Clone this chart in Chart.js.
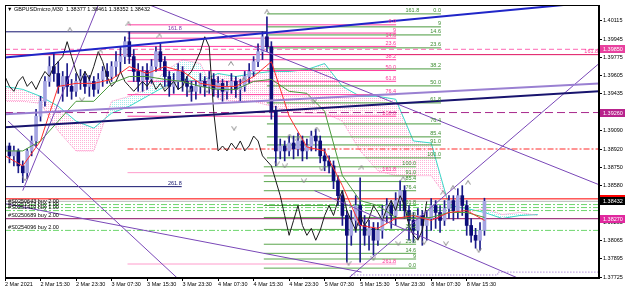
<!DOCTYPE html>
<html>
<head>
<meta charset="utf-8">
<script src="https://cdn.jsdelivr.net/npm/chart.js@4.4.1/dist/chart.umd.min.js"></script>
<style>
  html, body { margin: 0; padding: 0; background: #fff; }
</style>
</head>
<body>
<canvas id="c" width="625" height="290"></canvas>
<script>
// ── GBPUSDmicro M30 – candles, ichimoku, fibo levels, orders ──

const title = '\u25BC GBPUSDmicro,M30  1.38377 1.38461 1.38352 1.38432';

// time axis: hours of trading since 2 Mar 07:30 (weekend skipped)
const xTicks = [0, 8, 16, 24, 32, 40, 48, 56, 64, 72, 80, 88, 96, 104];
const xTickLabels = ['2 Mar 2021', '2 Mar 15:30', '2 Mar 23:30', '3 Mar 07:30', '3 Mar 15:30', '3 Mar 23:30',
    '4 Mar 07:30', '4 Mar 15:30', '4 Mar 23:30', '5 Mar 07:30', '5 Mar 15:30', '5 Mar 23:30', '8 Mar 07:30', '8 Mar 15:30'];
const yTicks = [1.40115, 1.39945, 1.39775, 1.39605, 1.39435, 1.39090, 1.38920, 1.38750, 1.38580,
    1.38235, 1.38065, 1.37895, 1.37725];

// candles (one per hour)
const firstOpen = 1.38902;
const closes = [
    1.38948, 1.38856, 1.38902, 1.38763, 1.38698, 1.38902, 1.38995, 1.39226, 1.39365, 1.39550,
    1.39689, 1.39624, 1.39504, 1.39596, 1.39504, 1.39458, 1.39550, 1.39596, 1.39504, 1.39550,
    1.39476, 1.39569, 1.39643, 1.39596, 1.39689, 1.39735, 1.39782, 1.39921, 1.39782, 1.39643,
    1.39550, 1.39643, 1.39569, 1.39689, 1.39828, 1.39735, 1.39596, 1.39504, 1.39550, 1.39643,
    1.39550, 1.39504, 1.39458, 1.39504, 1.39550, 1.39504, 1.39569, 1.39476, 1.39532, 1.39458,
    1.39504, 1.39550, 1.39476, 1.39504, 1.39596, 1.39643, 1.39735, 1.39828, 1.39967, 1.39874,
    1.39272, 1.38902, 1.38948, 1.38902, 1.38976, 1.38921, 1.38995, 1.38902, 1.38948, 1.39041,
    1.38995, 1.38856, 1.38809, 1.38763, 1.38624, 1.38485, 1.38300, 1.38115, 1.38254, 1.38393,
    1.38207, 1.38115, 1.38180, 1.38069, 1.38161, 1.38300, 1.38393, 1.38300, 1.38439, 1.38532,
    1.38346, 1.38254, 1.38161, 1.38300, 1.38207, 1.38272, 1.38393, 1.38328, 1.38254, 1.38365,
    1.38439, 1.38346, 1.38485, 1.38393, 1.38207, 1.38115, 1.38069, 1.38161, 1.38432];
const highs = [
    1.38995, 1.38976, 1.38948, 1.38921, 1.38809, 1.38921, 1.39041, 1.39291, 1.39411, 1.39596,
    1.39782, 1.39809, 1.39735, 1.39643, 1.39717, 1.39569, 1.39624, 1.39661, 1.39643, 1.39606,
    1.39596, 1.39624, 1.39689, 1.39717, 1.39735, 1.39828, 1.39874, 1.39967, 1.40013, 1.39847,
    1.39717, 1.39689, 1.39717, 1.39754, 1.39874, 1.39902, 1.39782, 1.39643, 1.39624, 1.39717,
    1.39689, 1.39596, 1.39550, 1.39550, 1.39624, 1.39596, 1.39643, 1.39624, 1.39596, 1.39569,
    1.39550, 1.39624, 1.39596, 1.39569, 1.39643, 1.39717, 1.39782, 1.39902, 1.40013, 1.40152,
    1.39921, 1.39319, 1.39013, 1.38995, 1.39041, 1.39041, 1.39069, 1.39041, 1.39013, 1.39087,
    1.39106, 1.39041, 1.38921, 1.38856, 1.38809, 1.38671, 1.38532, 1.38346, 1.38346, 1.38485,
    1.38652, 1.38300, 1.38254, 1.38235, 1.38235, 1.38393, 1.38458, 1.38439, 1.38513, 1.38624,
    1.38578, 1.38393, 1.38328, 1.38365, 1.38346, 1.38346, 1.38458, 1.38439, 1.38393, 1.38439,
    1.38485, 1.38485, 1.38550, 1.38578, 1.38439, 1.38272, 1.38180, 1.38235, 1.38461];
const lows = [
    1.38828, 1.38791, 1.38763, 1.38698, 1.38606, 1.38643, 1.38856, 1.38948, 1.39180, 1.39319,
    1.39504, 1.39550, 1.39439, 1.39365, 1.39411, 1.39384, 1.39411, 1.39476, 1.39439, 1.39411,
    1.39411, 1.39439, 1.39504, 1.39532, 1.39550, 1.39596, 1.39643, 1.39717, 1.39717, 1.39550,
    1.39458, 1.39458, 1.39476, 1.39532, 1.39643, 1.39661, 1.39504, 1.39411, 1.39439, 1.39476,
    1.39458, 1.39411, 1.39365, 1.39384, 1.39439, 1.39411, 1.39439, 1.39411, 1.39402, 1.39365,
    1.39384, 1.39439, 1.39402, 1.39365, 1.39458, 1.39532, 1.39596, 1.39689, 1.39754, 1.39828,
    1.39198, 1.38763, 1.38828, 1.38809, 1.38856, 1.38828, 1.38856, 1.38809, 1.38828, 1.38902,
    1.38902, 1.38791, 1.38717, 1.38698, 1.38550, 1.38393, 1.38207, 1.37865, 1.38022, 1.38143,
    1.37865, 1.38022, 1.37976, 1.37930, 1.38022, 1.38087, 1.38235, 1.38180, 1.38207, 1.38346,
    1.38272, 1.38069, 1.38050, 1.38087, 1.38022, 1.38069, 1.38161, 1.38180, 1.38143, 1.38207,
    1.38272, 1.38254, 1.38272, 1.38300, 1.38115, 1.38050, 1.37995, 1.37976, 1.38115];

// ichimoku
const lineHours = [0, 4, 8, 12, 16, 20, 24, 28, 32, 36, 40, 44, 48, 52, 56, 60, 64, 68, 72, 76, 80, 84, 88, 92, 96, 100, 104, 108];
const tenkan = [1.38856, 1.38763, 1.38995, 1.39504, 1.39532, 1.39532, 1.39569, 1.39689, 1.39624, 1.39689,
    1.39643, 1.39532, 1.39504, 1.39504, 1.39596, 1.39735, 1.39226, 1.38939, 1.38902, 1.38578,
    1.38207, 1.38180, 1.38272, 1.38300, 1.38254, 1.38328, 1.38346, 1.38254];
const kijun = [1.38902, 1.38902, 1.38995, 1.39180, 1.39365, 1.39365, 1.39532, 1.39596, 1.39596, 1.39569,
    1.39550, 1.39504, 1.39476, 1.39476, 1.39550, 1.39569, 1.39458, 1.39439, 1.39272, 1.38671,
    1.38439, 1.38393, 1.38282, 1.38272, 1.38282, 1.38328, 1.38328, 1.38282];
const cloudHours = [0, 4, 8, 12, 16, 20, 24, 28, 32, 36, 40, 44, 48, 52, 56, 60, 64, 68, 72, 76,
    80, 84, 88, 92, 96, 100, 104, 108, 112, 116, 120];
const senkouA = [1.39504, 1.39476, 1.39411, 1.39319, 1.39180, 1.39115, 1.39254, 1.39319, 1.39411, 1.39504,
    1.39569, 1.39550, 1.39624, 1.39596, 1.39624, 1.39643, 1.39643, 1.39661, 1.39717, 1.39504,
    1.39411, 1.39411, 1.39384, 1.38995, 1.38976, 1.38393, 1.38365, 1.38328, 1.38272, 1.38300, 1.38309];
const senkouB = [1.39365, 1.39365, 1.39346, 1.39087, 1.38902, 1.38902, 1.39365, 1.39411, 1.39476, 1.39643,
    1.39754, 1.39717, 1.39384, 1.39365, 1.39365, 1.39319, 1.39272, 1.39254, 1.39254, 1.39180,
    1.38902, 1.38717, 1.38671, 1.38671, 1.38671, 1.38439, 1.38328, 1.38365, 1.38309, 1.38328, 1.38300];
const chikouShift = 13;

// fractals
const fracUpT = [27.8, 34.8, 21.5, 14.6, 59.0, 50.9, 53.8, 64.1, 66.1, 70.2, 80.3, 89.7, 98.7, 100.9, 104.3];
const fracUpP = [1.40087, 1.39976, 1.39828, 1.40032, 1.40198, 1.39717, 1.39569, 1.39041, 1.39022, 1.39106,
    1.38745, 1.38643, 1.38513, 1.38559, 1.38606];
const fracDnT = [4.5, 17.3, 35.9, 41.5, 45.5, 51.6, 69.5, 61.2, 63.0, 67.3, 71.3, 77.4, 83.0, 88.6, 94.4, 99.3, 106.7];
const fracDnP = [1.38643, 1.39384, 1.39495, 1.39467, 1.39467, 1.39115, 1.39365, 1.38782, 1.38763, 1.38624,
    1.38735, 1.37856, 1.37902, 1.38041, 1.38050, 1.38041, 1.37976];

// fibo objects
const pinkLevels  = [0, 9, 14.6, 23.6, 38.2, 50, 61.8, 76.4, 100, 161.8, 261.8];
const greenLevels = [0, 9, 14.6, 23.6, 38.2, 50, 61.8, 76.4, 85.4, 91, 100];
const pinkFibRange   = [1.40078, 1.39226];
const pinkFibSpan    = [27.6, 88.1];
const greenFibARange = [1.40180, 1.38837];
const greenFibASpan  = [59, 98.2];
const greenFibBRange = [1.37809, 1.38754];
const greenFibBSpan  = [58.3, 92.6];
const navyPrices = [1.40013, 1.38569];
const navyEnds   = [59, 39.8];
const navyLabels = ['161.8', '261.8'];

// horizontal levels (alerts, orders, bid)
const hLinePrices = [1.39850, 1.39800, 1.39260, 1.38920, 1.38455, 1.38432, 1.38402, 1.38374, 1.38346, 1.38270, 1.38161];
const hLineStarts = [0, 0, 0, 27.6, 0, 0, 0, 0, 0, 0, 0];
const orderTexts  = ['#S0250643 buy 2.00', '#S0251513 buy 1.00', '#S0251419 buy 1.00', '#S0250689 buy 2.00', '#S0254096 buy 2.00'];
const orderPrices = [1.38402, 1.38374, 1.38346, 1.38270, 1.38161];
const badgePrices = [1.39850, 1.39260, 1.38455, 1.38432, 1.38270];

// trend lines: start/end in (hour, price)
const trendFromT = [0, 0, 0, 21.3, 30.9, 0.7, 0, 69.7, 77.4];
const trendFromP = [1.39774, 1.39124, 1.39245, 1.40291, 1.40291, 1.39180, 1.38411, 1.38532, 1.37717];
const trendToT   = [133.8, 133.8, 133.8, 4.0, 133.8, 38.8, 80.3, 115.5, 133.8];
const trendToP   = [1.40294, 1.39458, 1.39532, 1.38532, 1.38587, 1.37717, 1.37772, 1.37717, 1.39717];
const stopT = [78, 111, 111, 133.8];
const stopP = [1.37745, 1.37745, 1.37772, 1.37772];

// ───────────────────────────────────────────────────────────────
const FAMILY = '"Liberation Sans", "DejaVu Sans", sans-serif';
const FONT = '5.5px ' + FAMILY;
const X_MAX = 133.8, Y_MIN = 1.37717, Y_MAX = 1.40263;

const canvas = document.getElementById('c');
const ctx = canvas.getContext('2d');

function dots(color) {
    const c = document.createElement('canvas');
    c.width = 2; c.height = 2;
    const g = c.getContext('2d');
    g.fillStyle = color;
    g.fillRect(0, 0, 1, 1);
    return ctx.createPattern(c, 'repeat');
}

function chevron(up) {
    const c = document.createElement('canvas');
    c.width = 6; c.height = 5;
    const g = c.getContext('2d');
    g.strokeStyle = '#8a8a8a';
    g.lineWidth = 1;
    g.beginPath();
    if (up) { g.moveTo(0.5, 4.5); g.lineTo(3, 0.5); g.lineTo(5.5, 4.5); }
    else    { g.moveTo(0.5, 0.5); g.lineTo(3, 4.5); g.lineTo(5.5, 0.5); }
    g.stroke();
    return c;
}

const seg = (x0, x1, y0, y1, color, width, dash, order) => ({
    type: 'line', data: [{ x: x0, y: y0 }, { x: x1, y: y1 }],
    borderColor: color, borderWidth: width, borderDash: dash, pointRadius: 0, fill: false, order,
});

const fibPrice = (range, l) => range[0] + (range[1] - range[0]) * l / 100;
const fibText  = l => (Number.isInteger(l) && l !== 9 ? l.toFixed(1) : String(l));

const opens = closes.map((c, i) => (i ? closes[i - 1] : firstOpen));
const hours = closes.map((_, i) => i);

const datasets = [];

// cloud (A fills to B)
datasets.push({
    type: 'line', data: cloudHours.map((t, i) => ({ x: t, y: senkouA[i] })),
    borderColor: '#3ad8c8', borderWidth: 1, pointRadius: 0, order: 60,
    fill: { target: '+1', above: dots('#ffb2d8'), below: dots('#a6ecec') },
});
datasets.push({
    type: 'line', data: cloudHours.map((t, i) => ({ x: t, y: senkouB[i] })),
    borderColor: '#ff8cc6', borderWidth: 1, borderDash: [1, 1], pointRadius: 0, fill: false, order: 59,
});

// fibo lines
pinkLevels.forEach(l => {
    const p = fibPrice(pinkFibRange, l);
    datasets.push(seg(pinkFibSpan[0], pinkFibSpan[1], p, p, l > 100 ? '#ff9ccc' : '#ff3d9e', 1, [], 40));
});
greenLevels.forEach(l => {
    const p = fibPrice(greenFibARange, l);
    datasets.push(seg(greenFibASpan[0], greenFibASpan[1], p, p, '#4a9a3e', 1, [], 41));
});
greenLevels.forEach(l => {
    const p = fibPrice(greenFibBRange, l);
    datasets.push(seg(greenFibBSpan[0], greenFibBSpan[1], p, p, '#5aa64c', 1, [], 41));
});
navyPrices.forEach((p, i) => datasets.push(seg(0, navyEnds[i], p, p, '#14146e', 1, [], 39)));

// horizontal levels
const hStyle = [
    ['#ff66b3', 1, [5, 3]], ['#e0115f', 1, []], ['#a8288c', 1, [8, 4]], ['#ff2a2a', 1, [6, 2, 2, 2]],
    ['#ff0000', 1, []], ['#b8b8b8', 1, []], ['#6ed66e', 1, [6, 2, 2, 2]], ['#6ed66e', 1, [6, 2, 2, 2]],
    ['#6ed66e', 1, [6, 2, 2, 2]], ['#8b1060', 1, []], ['#6ed66e', 1, [6, 2, 2, 2]],
];
hLinePrices.forEach((p, i) => datasets.push(seg(hLineStarts[i], X_MAX, p, p, hStyle[i][0], hStyle[i][1], hStyle[i][2], 35)));

// candles
datasets.push({
    type: 'bar', data: hours.map(i => ({ x: i, y: [lows[i], highs[i]] })),
    backgroundColor: '#1c1c8a', barThickness: 1, grouped: false, order: 12,
});
datasets.push({
    type: 'bar', data: hours.map(i => ({ x: i, y: [opens[i], closes[i]] })),
    backgroundColor: hours.map(i => (closes[i] >= opens[i] ? '#a4a4e2' : '#0c0c78')),
    barThickness: 3, minBarLength: 1, grouped: false, order: 11,
});

// ichimoku lines
datasets.push({
    type: 'line', data: closes.map((c, i) => ({ x: i - chikouShift, y: c })),
    borderColor: '#1a1a1a', borderWidth: 1, pointRadius: 0, fill: false, order: 8,
});
datasets.push({
    type: 'line', data: lineHours.map((t, i) => ({ x: t, y: tenkan[i] })),
    borderColor: '#ff2e2e', borderWidth: 1, pointRadius: 0, fill: false, order: 7,
});
datasets.push({
    type: 'line', data: lineHours.map((t, i) => ({ x: t, y: kijun[i] })),
    borderColor: '#4b9a3c', borderWidth: 1, pointRadius: 0, fill: false, order: 7,
});

// trend lines
const trendStyle = [['#2026c8', 2], ['#18146e', 2], ['#9a80d2', 2], ['#7a48b8', 1], ['#7a48b8', 1],
    ['#7a48b8', 1], ['#7a48b8', 1], ['#7a48b8', 1], ['#7a48b8', 1]];
trendFromT.forEach((t, i) => datasets.push(
    seg(t, trendToT[i], trendFromP[i], trendToP[i], trendStyle[i][0], trendStyle[i][1], [], 5)));
datasets.push({
    type: 'line', data: stopT.map((t, i) => ({ x: t, y: stopP[i] })),
    borderColor: '#8a5cc8', borderWidth: 1, borderDash: [1, 2], pointRadius: 0, fill: false, order: 5,
});

// fractal arrows
const upImg = chevron(true), dnImg = chevron(false);
datasets.push({
    type: 'line', showLine: false, data: fracUpT.map((t, i) => ({ x: t, y: fracUpP[i] })),
    pointStyle: upImg, pointRadius: 3, order: 3,
});
datasets.push({
    type: 'line', showLine: false, data: fracDnT.map((t, i) => ({ x: t, y: fracDnP[i] })),
    pointStyle: dnImg, pointRadius: 3, order: 3,
});

// texts, frame, price badges
const overlay = {
    id: 'overlay',
    afterDatasetsDraw(chart) {
        const { ctx: c, chartArea: a, scales: { x, y } } = chart;
        c.save();
        c.beginPath();
        c.rect(a.left, a.top, a.right - a.left, a.bottom - a.top);
        c.clip();
        c.font = FONT;
        c.textBaseline = 'alphabetic';
        const put = (text, t, p, color, align) => {
            c.fillStyle = color;
            c.textAlign = align;
            c.fillText(text, x.getPixelForValue(t), y.getPixelForValue(p) - 1.5);
        };
        pinkLevels.forEach(l => put(fibText(l), pinkFibSpan[1], fibPrice(pinkFibRange, l), '#ff3399', 'right'));
        greenLevels.forEach(l => put(fibText(l), greenFibASpan[1], fibPrice(greenFibARange, l), '#3c8c30', 'right'));
        greenLevels.forEach(l => put(fibText(l), greenFibBSpan[1], fibPrice(greenFibBRange, l), '#3c8c30', 'right'));
        put('161.8', 93.3, 1.40180, '#3c8c30', 'right');
        navyLabels.forEach((s, i) => put(s, 39.8, navyPrices[i], i ? '#14146e' : '#7b30a8', 'right'));
        put('161.8', 133.6, 1.39800, '#ff3399', 'right');
        orderTexts.forEach((s, i) => put(s, 0.7, orderPrices[i], '#000', 'left'));

        c.fillStyle = '#000';
        c.textAlign = 'left';
        c.fillText(title, a.left + 2, a.top + 6);
        c.restore();

        c.save();
        c.strokeStyle = '#000';
        c.lineWidth = 1;
        c.strokeRect(a.left + 0.5, a.top + 0.5, a.right - a.left - 1, a.bottom - a.top - 1);
        c.restore();
    },
    afterDraw(chart) {
        const { ctx: c, chartArea: a, scales: { y } } = chart;
        const colors = ['#e8409e', '#b8238c', '#ff0000', '#000000', '#e0289e'];
        c.save();
        c.font = FONT;
        c.textBaseline = 'middle';
        c.textAlign = 'left';
        badgePrices.forEach((p, i) => {
            const py = Math.round(y.getPixelForValue(p));
            c.fillStyle = colors[i];
            c.fillRect(a.right + 1, py - 4, 625 - a.right - 1, 8);
            c.fillStyle = '#fff';
            c.fillText(p.toFixed(5), a.right + 4, py + 0.5);
        });
        c.restore();
    },
};

new Chart(ctx, {
    type: 'bar',
    data: { datasets },
    options: {
        responsive: false,
        animation: false,
        devicePixelRatio: 1,
        layout: { padding: { left: 2, top: 3, right: 0, bottom: 0 } },
        plugins: {
            legend: { display: false },
            tooltip: { enabled: false },
            filler: { drawTime: 'beforeDatasetsDraw' },
        },
        scales: {
            x: {
                type: 'linear', min: 0, max: X_MAX, offset: false,
                afterBuildTicks: s => { s.ticks = xTicks.map(v => ({ value: v })); },
                afterFit: s => { s.height = 12; s.paddingLeft = 0; s.paddingRight = 0; },
                ticks: {
                    align: 'start', maxRotation: 0, autoSkip: false, padding: 0, color: '#000',
                    font: { family: FAMILY, size: 5.5 },
                    callback: (v, i) => xTickLabels[i],
                },
                grid: { drawOnChartArea: false, offset: false, tickLength: 3, color: '#000' },
                border: { color: '#000' },
            },
            y: {
                type: 'linear', position: 'right', min: Y_MIN, max: Y_MAX,
                afterBuildTicks: s => { s.ticks = yTicks.map(v => ({ value: v })); },
                afterFit: s => { s.width = 26; s.paddingTop = 0; s.paddingBottom = 0; },
                ticks: {
                    padding: 1, color: '#000', font: { family: FAMILY, size: 5.5 },
                    callback: v => v.toFixed(5),
                },
                grid: { drawOnChartArea: false, tickLength: 3, color: '#000' },
                border: { color: '#000' },
            },
        },
    },
    plugins: [overlay],
});
</script>
</body>
</html>
